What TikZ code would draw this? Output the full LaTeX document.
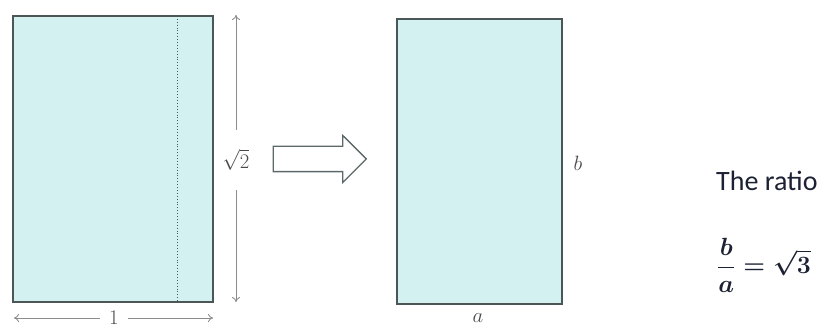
\documentclass[tikz,border=0pt]{standalone}
\usepackage{amsmath}
\usepackage{fontspec}
\newfontfamily\calibri{Carlito}
\usepackage{tikz}
\usetikzlibrary{arrows.meta, positioning, shapes.arrows}

\definecolor{paper}{HTML}{D3F1F1}
\definecolor{edgegrey}{HTML}{4B5757}
\definecolor{dimgrey}{HTML}{8C8C8C}
\definecolor{labelgrey}{HTML}{4A4A4A}
\definecolor{inkblue}{HTML}{1C2233}

\begin{document}
\begin{tikzpicture}[x=1pt, y=-1pt,
    sheet/.style={draw=edgegrey, fill=paper, line width=1.6pt, inner sep=0pt},
    dim/.style={draw=dimgrey, line width=0.9pt, -{To[length=5pt, width=8pt]}},
    size/.style={text=labelgrey, font=\fontsize{20}{22}\selectfont},
    fold/.style={single arrow, draw=edgegrey!90, line width=1.3pt, fill=white,
        inner xsep=0pt, inner ysep=12pt, single arrow head extend=11pt, minimum height=93pt},
    note/.style={text=inkblue}
]
\useasboundingbox (0,0) rectangle (823,328);

\node[sheet, minimum width=200pt, minimum height=286pt] (big) at (113,159) {};
\draw[edgegrey, dotted, line width=0.9pt] (177,16) -- (177,302);

\node[size, inner ysep=19pt] (root) at (236,160) {$\sqrt{2}$};
\coordinate (htop) at (236,15);
\coordinate (hbot) at (236,302);
\draw[dim] (root) -- (htop);
\draw[dim] (root) -- (hbot);

\node[size, inner xsep=9pt, inner ysep=0pt] (one) at (114,318) {$1$};
\coordinate (wleft) at (14,318);
\coordinate (wright) at (213,318);
\draw[dim] (one) -- (wleft);
\draw[dim] (one) -- (wright);

\node[fold] (turn) at (313.5,159) {};

\node[sheet, minimum width=165pt, minimum height=285pt] (small) at (479.5,161.5) {};
\node[size] (bside) at (578,163) {$b$};
\node[size] (aside) at (478,318) {$a$};

\node[note, anchor=base west, font=\calibri\fontsize{28}{32}\selectfont, inner sep=0pt] (ratio) at (716,191) {The ratio};
\node[note, anchor=base west, font=\fontsize{26}{30}\selectfont\boldmath, inner sep=0pt] (frac) at (717,274) {$\displaystyle\frac{b}{a}=\sqrt{3}$};
\end{tikzpicture}
\end{document}
